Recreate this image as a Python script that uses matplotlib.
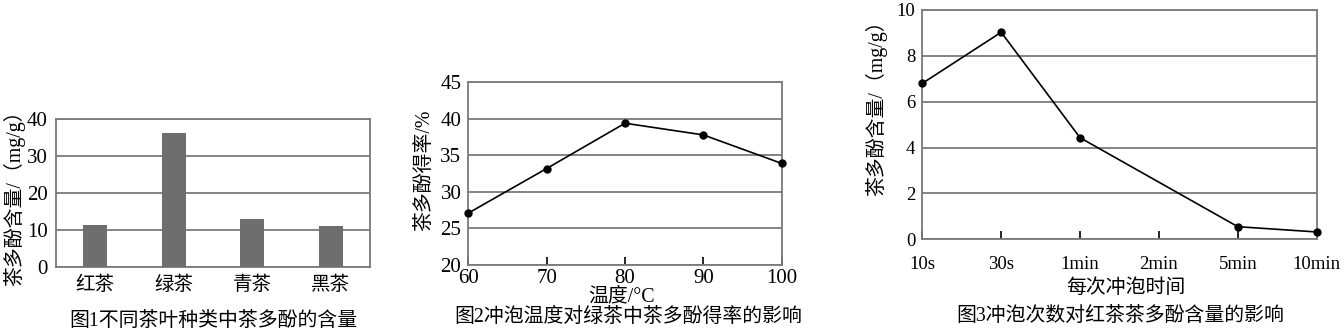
import matplotlib
matplotlib.use("Agg")
import matplotlib.pyplot as plt
import numpy as np

plt.rcParams['font.family'] = ['Liberation Serif', 'Noto Sans CJK SC']

# Panel 1 data
tea_types = ['红茶', '绿茶', '青茶', '黑茶']
tea_content = [11.3, 36.2, 13.0, 11.0]

# Panel 2 data
temps = [60, 70, 80, 90, 100]
yield_rate = [27.1, 33.2, 39.4, 37.8, 33.9]

# Panel 3 data
times = ['10s', '30s', '1min', '2min', '5min', '10min']
time_content = [6.8, 9.03, 4.43, None, 0.55, 0.32]

W, H = 1344, 334
fig = plt.figure(figsize=(W / 100, H / 100), dpi=100)

def add_axes(l, r, t, b):
    return fig.add_axes([l / W, 1 - b / H, (r - l) / W, (b - t) / H])

def ftext(x, y, s, **kw):
    kw.setdefault('fontsize', 14.3)
    return fig.text(x / W, 1 - y / H, s, ha='center', va='center', **kw)

GRID = '#7a7a7a'
NUM = 15

def style(ax):
    for s in ax.spines.values():
        s.set_color(GRID)
        s.set_linewidth(1.3)
    ax.yaxis.grid(True, color=GRID, linewidth=1.3)
    ax.set_axisbelow(True)

# ---------- Panel 1 ----------
ax1 = add_axes(56, 370, 119, 267)
style(ax1)
x1 = np.arange(len(tea_types))
ax1.bar(x1, tea_content, width=0.31, color='#6e6e6e', zorder=3)
ax1.set_xlim(-0.5, len(tea_types) - 0.5)
ax1.set_ylim(0, 40)
ax1.set_yticks([0, 10, 20, 30, 40])
ax1.set_xticks(x1)
ax1.set_xticklabels(tea_types, fontsize=14)
ax1.tick_params(axis='both', length=0)
ax1.tick_params(axis='y', pad=6, labelsize=NUM)
ax1.tick_params(axis='x', pad=6)
ftext(14, 193, '茶多酚含量/（mg/g）', rotation=90)
ftext(213, 322, '图1不同茶叶种类中茶多酚的含量')

# ---------- Panel 2 ----------
ax2 = add_axes(468.3, 781.7, 82.3, 265)
style(ax2)
ax2.plot(temps, yield_rate, color='black', linewidth=1.2, marker='o',
         markersize=5, zorder=3, clip_on=False)
ax2.set_xlim(60, 100)
ax2.set_ylim(20, 45)
ax2.set_yticks([20, 25, 30, 35, 40, 45])
ax2.set_xticks(temps)
ax2.tick_params(axis='y', length=0, labelsize=NUM, pad=5)
ax2.tick_params(axis='x', direction='in', length=6, width=1.2, color='black',
                labelsize=NUM, pad=3)
ftext(425, 170, '茶多酚得率/%', rotation=90)
ftext(622, 297, '温度/°C')
ftext(628, 317, '图2冲泡温度对绿茶中茶多酚得率的影响')

# ---------- Panel 3 ----------
ax3 = add_axes(922.3, 1316.7, 10, 239.3)
style(ax3)
x3 = np.arange(len(times))
valid = [(x, v) for x, v in zip(x3, time_content) if v is not None]
ax3.plot([p[0] for p in valid], [p[1] for p in valid], color='black',
         linewidth=1.2, marker='o', markersize=5, zorder=3, clip_on=False)
ax3.set_xlim(0, len(times) - 1)
ax3.set_ylim(0, 10)
ax3.set_yticks([0, 2, 4, 6, 8, 10])
ax3.set_xticks(x3)
ax3.set_xticklabels(times)
ax3.tick_params(axis='y', length=0, labelsize=13.5, pad=5)
ax3.tick_params(axis='x', direction='in', length=6, width=1.2, color='black',
                labelsize=13.5, pad=12)
ftext(876, 103, '茶多酚含量/（mg/g）', rotation=90)
ftext(1126, 288, '每次冲泡时间')
ftext(1120, 317, '图3冲泡次数对红茶茶多酚含量的影响')

fig.savefig('out.png', dpi=100, facecolor='white')
